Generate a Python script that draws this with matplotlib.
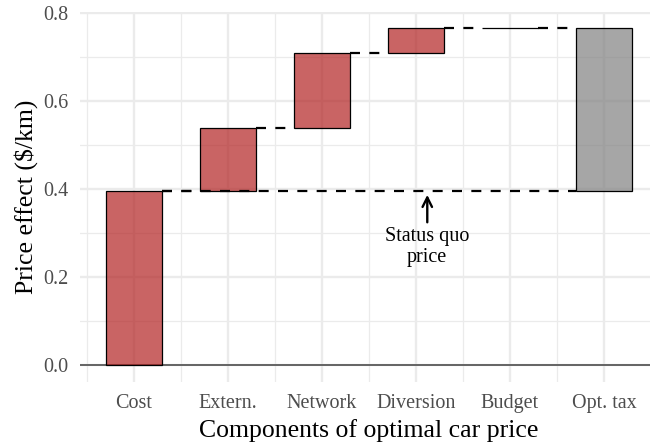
import matplotlib
matplotlib.use("Agg")
import matplotlib.pyplot as plt
import numpy as np

# waterfall components ($/km)
categories = ["Cost", "Extern.", "Network", "Diversion", "Budget", "Opt. tax"]
effects = [0.395, 0.143, 0.170, 0.057, 0.0]
status_quo = 0.395
yticks = [0.0, 0.2, 0.4, 0.6, 0.8]

plt.rcParams['font.family'] = ['Liberation Serif', 'DejaVu Serif']

fig = plt.figure(figsize=(6.5, 4.44), dpi=100)
ax = fig.add_axes([79.5 / 650, 1 - 381.7 / 444, 579 / 650, (381.7 - 11.7) / 444])

red = (178/255, 34/255, 34/255, 0.7)
grey = (0.5, 0.5, 0.5, 0.7)
half = 0.3

# stacked bars
ends = np.cumsum(effects)
starts = ends - np.array(effects)
xs = np.arange(1, len(categories) + 1)
for i in range(len(effects)):
    ax.bar(xs[i], effects[i], bottom=starts[i], width=2 * half, color=red,
           edgecolor='black', linewidth=0.9, zorder=3)
opt = ends[-1]
ax.bar(xs[-1], opt - status_quo, bottom=status_quo, width=2 * half, color=grey,
       edgecolor='black', linewidth=0.9, zorder=3)

# connectors between bars
dash = dict(color='black', lw=1.6, linestyle=(0, (4.5, 4.2)), zorder=4)
for i in range(1, len(effects)):
    ax.plot([xs[i - 1] + half, xs[i] - half], [ends[i - 1], ends[i - 1]], **dash)
ax.plot([xs[len(effects) - 1] + half, xs[-1] - half], [opt, opt], **dash)
# status quo line
ax.plot([xs[0] + half, xs[-1] - half], [status_quo, status_quo], **dash)

ax.annotate("", xy=(4.12, 0.393), xytext=(4.12, 0.318),
            arrowprops=dict(arrowstyle='->', lw=1.7, color='black',
                            mutation_scale=17), zorder=5)
ax.text(4.12, 0.314, "Status quo\nprice", ha='center', va='top', fontsize=14.5,
        linespacing=1.12, zorder=5)

ax.axhline(0, color='#4D4D4D', lw=1.2, zorder=2)

ax.set_xlim(0.42, 6.58)
ax.set_ylim(-0.038, 0.803)
ax.set_xticks(xs)
ax.set_xticklabels(categories)
ax.set_xticks(np.arange(0.5, 7, 1.0), minor=True)
ax.set_yticks(yticks)
ax.set_yticklabels([f"{v:.1f}" for v in yticks])
ax.set_yticks([0.1, 0.3, 0.5, 0.7], minor=True)

ax.grid(True, which='major', color='#EBEBEB', lw=1.7, zorder=0)
ax.grid(True, which='minor', color='#EBEBEB', lw=0.9, zorder=0)
ax.set_axisbelow(True)
for s in ax.spines.values():
    s.set_visible(False)
ax.tick_params(which='both', length=0)
ax.tick_params(axis='both', labelsize=14.5, labelcolor='#4D4D4D')
ax.tick_params(axis='y', pad=8)
ax.tick_params(axis='x', pad=9)

ax.set_xlabel("Components of optimal car price", fontsize=18.5, labelpad=4)
ax.set_ylabel(r"Price effect (\$/km)", fontsize=18.5, labelpad=4)

fig.savefig("out.png", dpi=100)
